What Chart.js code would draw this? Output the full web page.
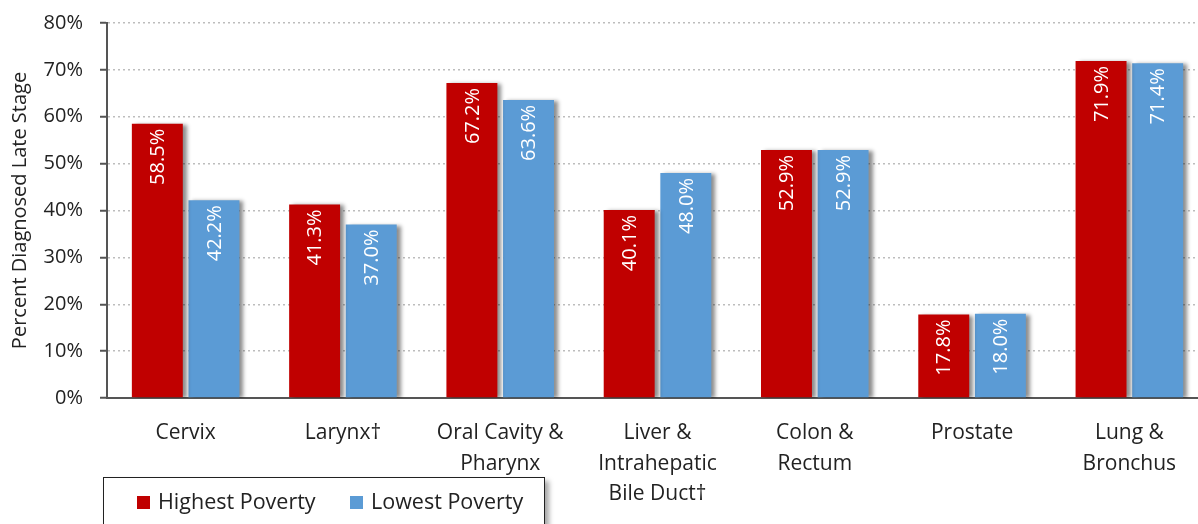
<!DOCTYPE html>
<html>
<head>
<meta charset="utf-8">
<script src="https://cdn.jsdelivr.net/npm/chart.js@4/dist/chart.umd.min.js"></script>
<style>
  html, body { margin: 0; padding: 0; background: #fff; overflow: hidden; }
  #wrap { position: relative; width: 1210px; height: 524px; }
  #legend {
    position: absolute; left: 103px; top: 477px; width: 440px; height: 70px;
    border: 1.5px solid #222; background: #fff; box-shadow: 4px 4px 5px rgba(0,0,0,0.35);
    font-family: "Open Sans", sans-serif; font-size: 21.5px; color: #222;
  }
  .item { position: absolute; top: 8px; white-space: nowrap; }
  .sw { display: inline-block; width: 13px; height: 13px; margin-right: 8px; vertical-align: 0px; }
</style>
</head>
<body>
<div id="wrap">
  <canvas id="chart" width="1210" height="524"></canvas>
  <div id="legend"></div>
</div>
<script>
let categories = [
  "Cervix",
  "Larynx\u2020",
  ["Oral Cavity &", "Pharynx"],
  ["Liver &", "Intrahepatic", "Bile Duct\u2020"],
  ["Colon &", "Rectum"],
  "Prostate",
  ["Lung &", "Bronchus"]
];
let highestPoverty = [58.5, 41.3, 67.2, 40.1, 52.9, 17.8, 71.9];
let lowestPoverty = [42.2, 37.0, 63.6, 48.0, 52.9, 18.0, 71.4];
let seriesNames = ["Highest Poverty", "Lowest Poverty"];
let seriesColors = ["#C00000", "#5B9BD5"];

let fontFamily = '"Open Sans", sans-serif';

// drop shadow behind bars
let shadowPlugin = {
  id: "barShadow",
  beforeDatasetDraw(chart) {
    let ctx = chart.ctx;
    ctx.save();
    ctx.shadowColor = "rgba(0,0,0,0.45)";
    ctx.shadowOffsetX = 4;
    ctx.shadowOffsetY = 1;
    ctx.shadowBlur = 4;
  },
  afterDatasetDraw(chart) {
    chart.ctx.restore();
  }
};

// rotated value labels inside the top of each bar
let labelPlugin = {
  id: "barLabels",
  afterDatasetsDraw(chart) {
    let ctx = chart.ctx;
    chart.data.datasets.forEach((ds, i) => {
      chart.getDatasetMeta(i).data.forEach((bar, j) => {
        ctx.save();
        ctx.translate(bar.x, bar.y + 5);
        ctx.rotate(-Math.PI / 2);
        ctx.fillStyle = "#fff";
        ctx.font = "20px " + fontFamily;
        ctx.textAlign = "right";
        ctx.textBaseline = "middle";
        ctx.fillText(ds.data[j].toFixed(1) + "%", 0, 1);
        ctx.restore();
      });
    });
  }
};

let chart = new Chart(document.getElementById("chart").getContext("2d"), {
  type: "bar",
  data: {
    labels: categories,
    datasets: [
      { label: seriesNames[0], data: highestPoverty, backgroundColor: seriesColors[0] },
      { label: seriesNames[1], data: lowestPoverty, backgroundColor: seriesColors[1] }
    ]
  },
  options: {
    responsive: false,
    animation: false,
    layout: { padding: { top: 23, right: 2, bottom: 0, left: 0 } },
    datasets: { bar: { categoryPercentage: 0.72, barPercentage: 0.9 } },
    plugins: { legend: { display: false }, tooltip: { enabled: false } },
    scales: {
      x: {
        grid: { display: false },
        border: { display: true, color: "#555", width: 2 },
        ticks: { color: "#222", padding: 12, font: { family: fontFamily, size: 21, lineHeight: 1.45 } },
        afterFit(s) { s.height = 126; }
      },
      y: {
        min: 0, max: 80,
        ticks: {
          stepSize: 10, color: "#222", padding: 17,
          font: { family: fontFamily, size: 20 },
          callback: v => v + "%"
        },
        grid: { color: "#BDBDBD", tickColor: "#555", tickLength: 7, lineWidth: 1.5, tickWidth: 2 },
        border: { display: true, color: "#555", width: 2, dash: [2, 3] },
        title: {
          display: true, text: "Percent Diagnosed Late Stage", color: "#222",
          font: { family: fontFamily, size: 20 }, padding: { top: 8, bottom: 0 }
        },
        afterFit(s) { s.width = 107; s.paddingTop = 0; s.paddingBottom = 0; }
      }
    }
  },
  plugins: [shadowPlugin, labelPlugin]
});

// legend box built from the dataset names
let legend = document.getElementById("legend");
let lx = [33, 246];
seriesNames.forEach((name, i) => {
  let d = document.createElement("div");
  d.className = "item";
  d.style.left = lx[i] + "px";
  d.innerHTML = '<span class="sw" style="background:' + seriesColors[i] + '"></span>' + name;
  legend.appendChild(d);
});
</script>
</body>
</html>
